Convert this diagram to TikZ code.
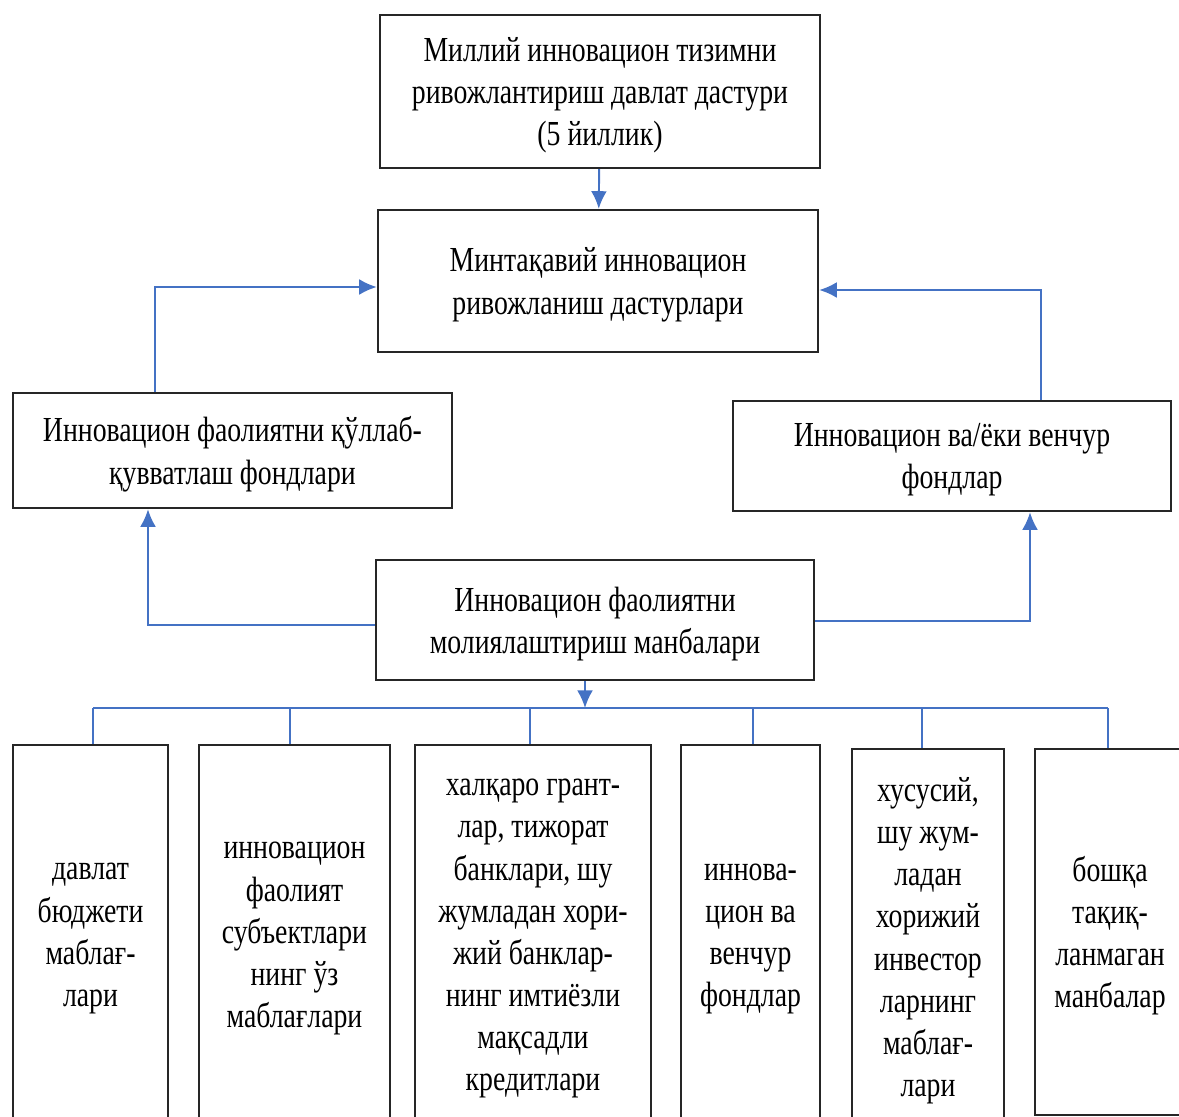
\documentclass[tikz,border=0pt]{standalone}
\usepackage{fontspec}
\setmainfont{Liberation Serif}[FakeStretch=0.79]
\usetikzlibrary{positioning,arrows.meta}
\definecolor{linkblue}{RGB}{68,114,196}

\begin{document}
\begin{tikzpicture}[blk/.style={draw=black!85,line width=1.4pt,align=center,inner sep=2pt,text depth=0pt,font=\fontsize{20}{24}\selectfont},
    lnk/.style={draw=linkblue,line width=1.1pt},
    arr/.style={lnk,-{Latex[length=10pt,width=9pt]}}]
    \clip (0,0) rectangle (23.58,-22.34);

    \node[blk,minimum width=8.8cm,minimum height=3.06cm] (prog) at (12.0,-1.83) {Миллий инновацион тизимни\\ривожлантириш давлат дастури\\(5 йиллик)};
    \node[blk,minimum width=8.8cm,minimum height=2.84cm] (reg) at (11.96,-5.62) {Минтақавий инновацион\\ривожланиш дастурлари};
    \node[blk,minimum width=8.78cm,minimum height=2.3cm] (sup) at (4.65,-9.01) {Инновацион фаолиятни қўллаб-\\қувватлаш фондлари};
    \node[blk,minimum width=8.76cm,minimum height=2.2cm] (vent) at (19.04,-9.12) {Инновацион ва/ёки венчур\\фондлар};
    \node[blk,minimum width=8.76cm,minimum height=2.4cm] (src) at (11.9,-12.4) {Инновацион фаолиятни\\молиялаштириш манбалари};

    \node[blk,minimum width=3.1cm,minimum height=7.6cm] (b1) at (1.81,-18.7) {давлат\\бюджети\\маблағ-\\лари};
    \node[blk,minimum width=3.82cm,minimum height=7.6cm] (b2) at (5.89,-18.7) {инновацион\\фаолият\\субъектлари\\нинг ўз\\маблағлари};
    \node[blk,minimum width=4.72cm,minimum height=7.6cm] (b3) at (10.66,-18.7) {халқаро грант-\\лар, тижорат\\банклари, шу\\жумладан хори-\\жий банклар-\\нинг имтиёзли\\мақсадли\\кредитлари};
    \node[blk,minimum width=2.78cm,minimum height=7.6cm] (b4) at (15.01,-18.7) {иннова-\\цион ва\\венчур\\фондлар};
    \node[blk,minimum width=3.04cm,minimum height=7.52cm] (b5) at (18.56,-18.74) {хусусий,\\шу жум-\\ладан\\хорижий\\инвестор\\ларнинг\\маблағ-\\лари};
    \node[blk,minimum width=3.0cm,minimum height=7.32cm] (b6) at (22.2,-18.64) {бошқа\\тақиқ-\\ланмаган\\манбалар};

    \coordinate (bus) at (11.7,-14.16);

    \draw[arr] (prog) -- (reg);
    \draw[arr] ([xshift=-1.55cm]sup.north) |- ([yshift=-0.12cm]reg.west);
    \draw[arr] ([xshift=1.78cm]vent.north) |- ([yshift=-0.18cm]reg.east);
    \draw[arr] ([yshift=-0.1cm]src.west) -| ([xshift=-1.69cm]sup.south);
    \draw[arr] ([yshift=-0.02cm]src.east) -| ([xshift=1.56cm]vent.south);
    \draw[arr] ([xshift=-0.2cm]src.south) -- (bus);

    \draw[lnk] ([xshift=0.05cm]b1.north |- bus) -- ([xshift=-0.04cm]b6.north |- bus);
    \draw[lnk] ([xshift=0.05cm]b1.north |- bus) -- ([xshift=0.05cm]b1.north);
    \draw[lnk] ([xshift=-0.09cm]b2.north |- bus) -- ([xshift=-0.09cm]b2.north);
    \draw[lnk] ([xshift=-0.06cm]b3.north |- bus) -- ([xshift=-0.06cm]b3.north);
    \draw[lnk] ([xshift=0.05cm]b4.north |- bus) -- ([xshift=0.05cm]b4.north);
    \draw[lnk] ([xshift=-0.12cm]b5.north |- bus) -- ([xshift=-0.12cm]b5.north);
    \draw[lnk] ([xshift=-0.04cm]b6.north |- bus) -- ([xshift=-0.04cm]b6.north);
\end{tikzpicture}
\end{document}
